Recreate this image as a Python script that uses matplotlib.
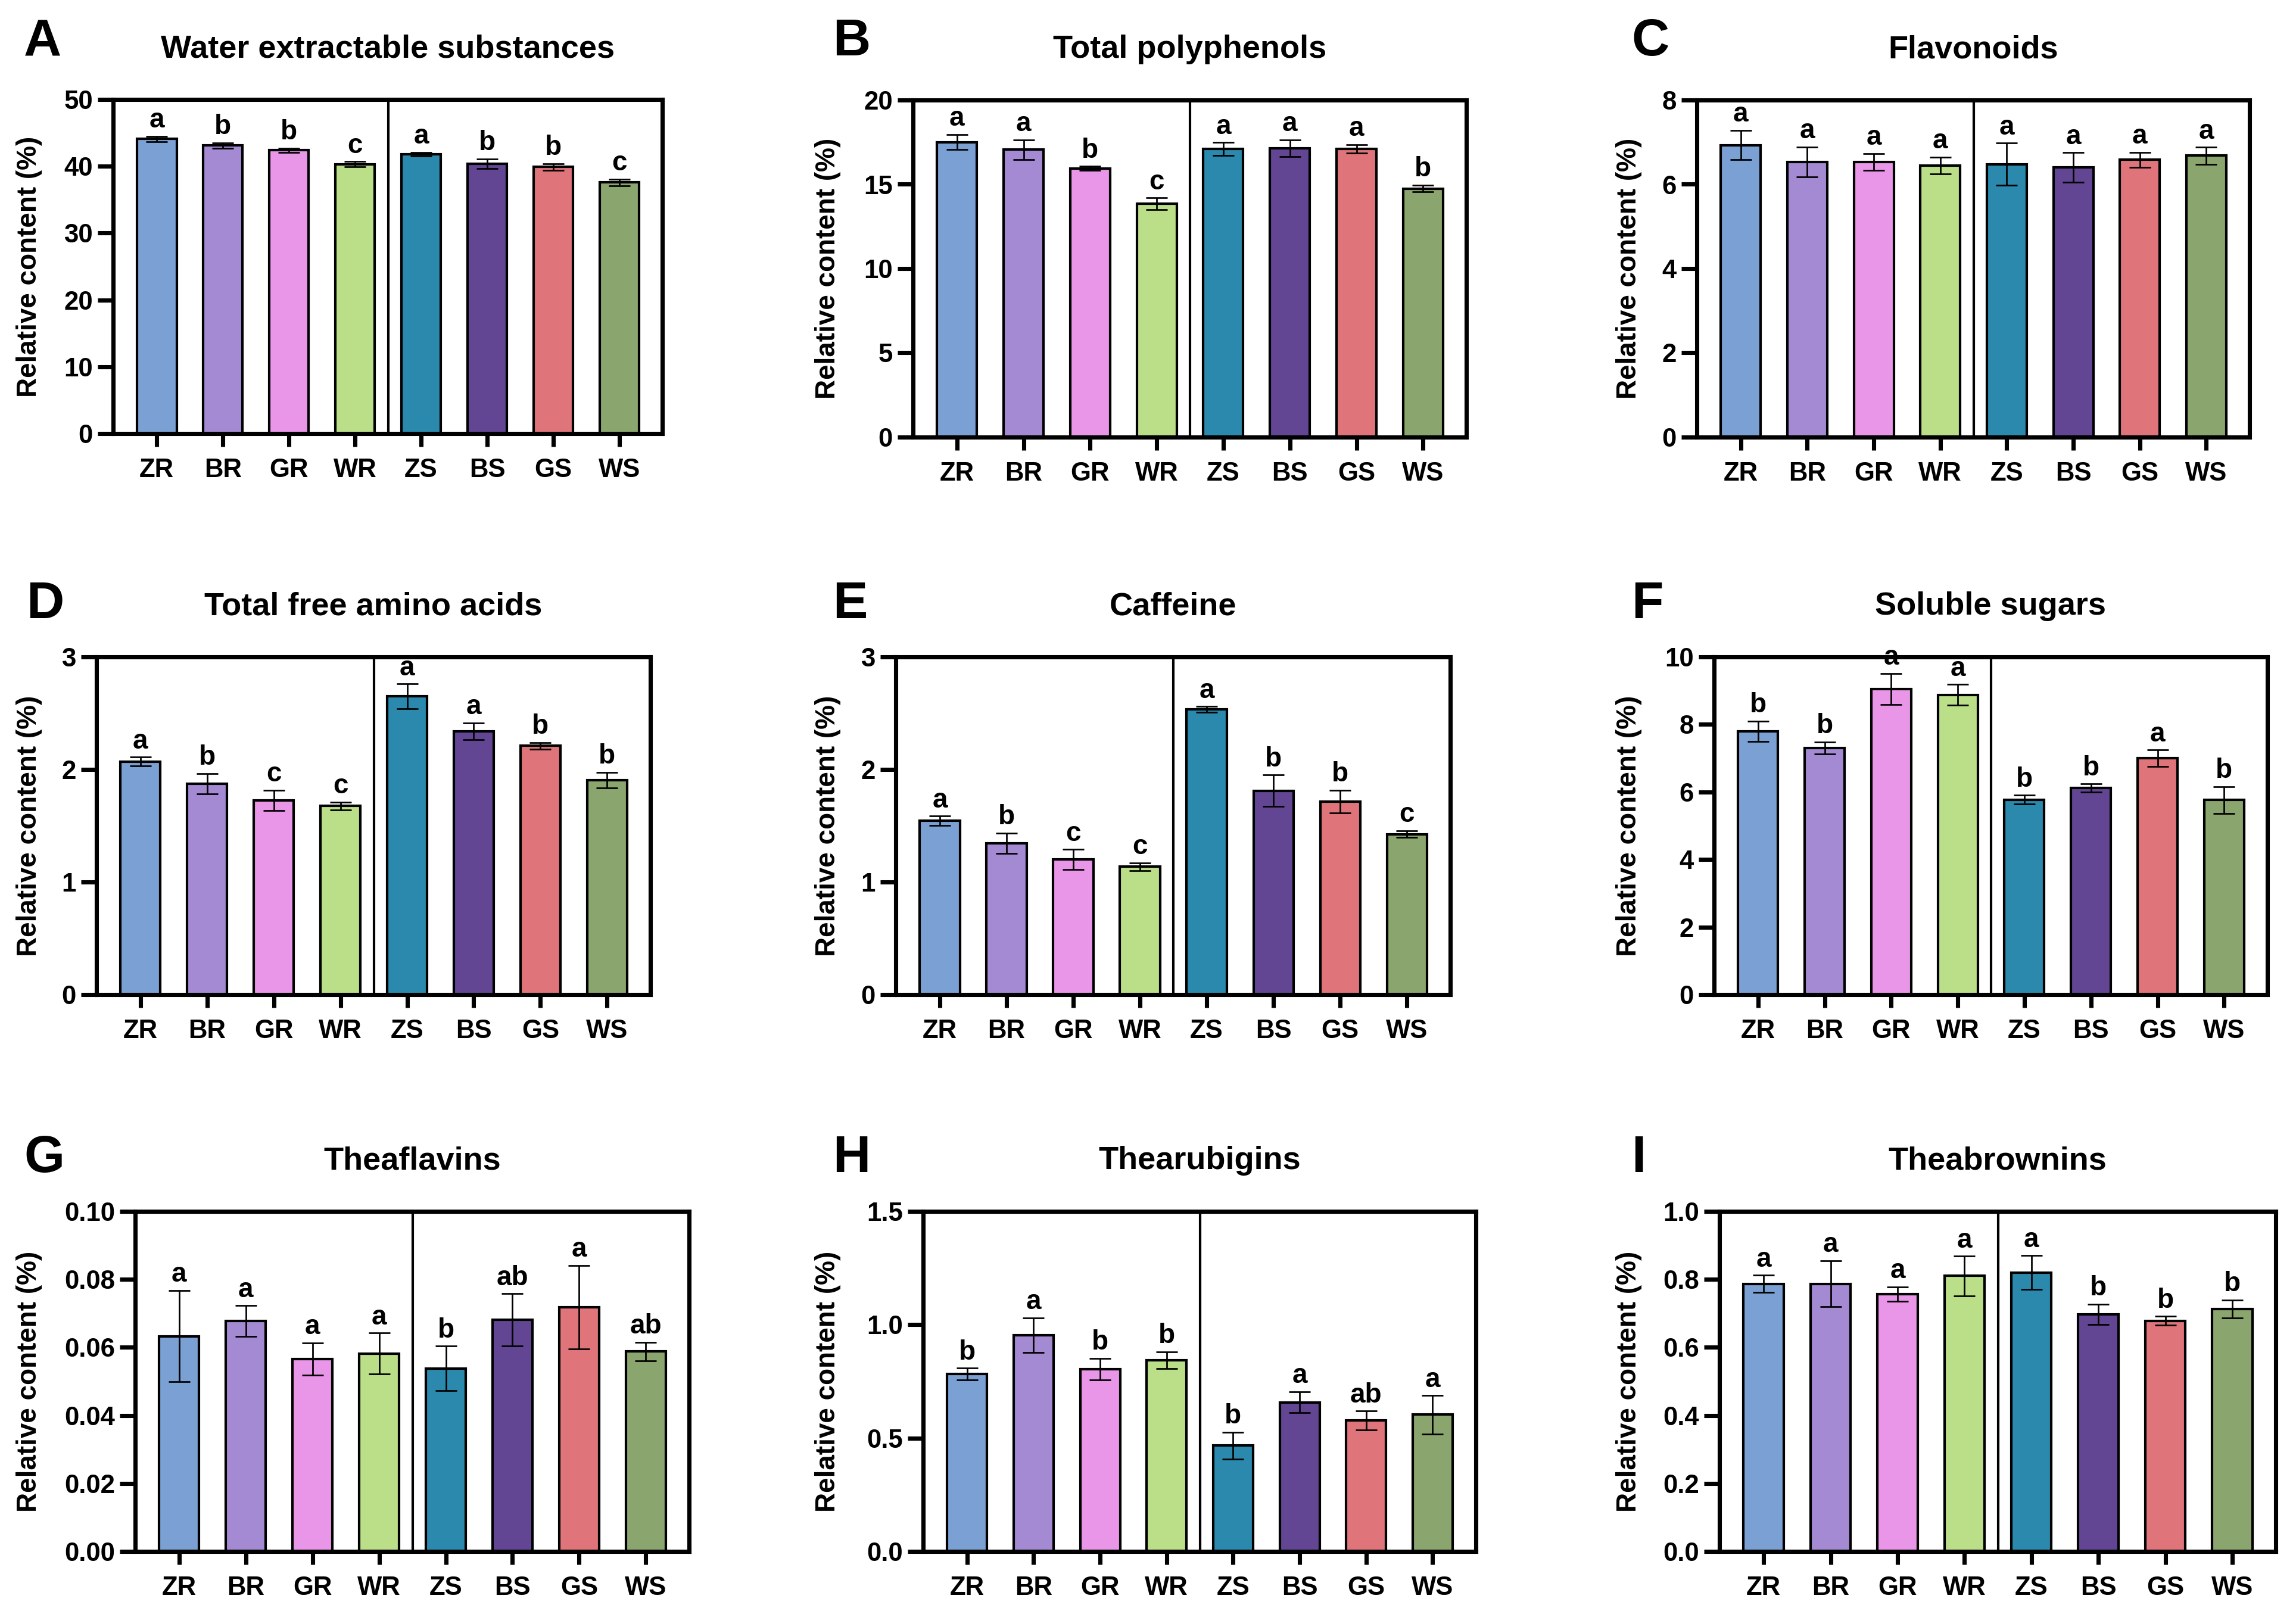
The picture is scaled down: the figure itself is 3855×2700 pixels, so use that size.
import matplotlib
matplotlib.use('Agg')
import matplotlib.pyplot as plt
from matplotlib.ticker import FormatStrFormatter, MultipleLocator

plt.rcParams['font.family'] = ['Liberation Sans', 'DejaVu Sans']
plt.rcParams['font.weight'] = 'bold'

# ---------------- data ----------------
groups = ['ZR', 'BR', 'GR', 'WR', 'ZS', 'BS', 'GS', 'WS']
colors = ['#7BA0D4', '#A48AD2', '#E996E8', '#BBDE89',
          '#2A89AD', '#624693', '#DF747A', '#8AA56E']

titles = ['Water extractable substances', 'Total polyphenols', 'Flavonoids',
          'Total free amino acids', 'Caffeine', 'Soluble sugars',
          'Theaflavins', 'Thearubigins', 'Theabrownins']
panel_letters = ['A', 'B', 'C', 'D', 'E', 'F', 'G', 'H', 'I']

wes_mean = [44.1, 43.1, 42.4, 40.3, 41.8, 40.4, 39.9, 37.6]
wes_err = [0.4, 0.4, 0.3, 0.4, 0.3, 0.7, 0.5, 0.5]
wes_sig = ['a', 'b', 'b', 'c', 'a', 'b', 'b', 'c']

tp_mean = [17.5, 17.05, 15.95, 13.85, 17.1, 17.15, 17.1, 14.75]
tp_err = [0.45, 0.6, 0.12, 0.35, 0.38, 0.5, 0.25, 0.2]
tp_sig = ['a', 'a', 'b', 'c', 'a', 'a', 'a', 'b']

fla_mean = [6.93, 6.53, 6.53, 6.45, 6.48, 6.40, 6.58, 6.68]
fla_err = [0.35, 0.36, 0.20, 0.20, 0.50, 0.35, 0.18, 0.20]
fla_sig = ['a', 'a', 'a', 'a', 'a', 'a', 'a', 'a']

aa_mean = [2.07, 1.875, 1.725, 1.675, 2.65, 2.34, 2.21, 1.905]
aa_err = [0.04, 0.09, 0.09, 0.035, 0.11, 0.075, 0.03, 0.07]
aa_sig = ['a', 'b', 'c', 'c', 'a', 'a', 'b', 'b']

caf_mean = [1.545, 1.345, 1.20, 1.135, 2.535, 1.81, 1.715, 1.425]
caf_err = [0.04, 0.09, 0.09, 0.035, 0.025, 0.14, 0.10, 0.03]
caf_sig = ['a', 'b', 'c', 'c', 'a', 'b', 'b', 'c']

sug_mean = [7.80, 7.30, 9.05, 8.88, 5.77, 6.12, 7.00, 5.76]
sug_err = [0.30, 0.18, 0.46, 0.30, 0.13, 0.12, 0.24, 0.40]
sug_sig = ['b', 'b', 'a', 'a', 'b', 'b', 'a', 'b']

tf_mean = [0.0633, 0.0678, 0.0566, 0.0582, 0.0538, 0.0681, 0.0718, 0.0588]
tf_err = [0.0134, 0.0045, 0.0047, 0.0060, 0.0066, 0.0077, 0.0123, 0.0027]
tf_sig = ['a', 'a', 'a', 'a', 'b', 'ab', 'a', 'ab']

tr_mean = [0.782, 0.954, 0.804, 0.843, 0.467, 0.658, 0.578, 0.603]
tr_err = [0.026, 0.077, 0.048, 0.037, 0.059, 0.046, 0.041, 0.085]
tr_sig = ['b', 'a', 'b', 'b', 'b', 'a', 'ab', 'a']

tb_mean = [0.787, 0.787, 0.757, 0.810, 0.820, 0.697, 0.678, 0.713]
tb_err = [0.025, 0.068, 0.021, 0.058, 0.050, 0.030, 0.013, 0.026]
tb_sig = ['a', 'a', 'a', 'a', 'a', 'b', 'b', 'b']

y_max = [50, 20, 8, 3, 3, 10, 0.10, 1.5, 1.0]
y_step = [10, 5, 2, 1, 1, 2, 0.02, 0.5, 0.2]
y_fmt = ['%d', '%d', '%d', '%d', '%d', '%d', '%.2f', '%.1f', '%.1f']

means = [wes_mean, tp_mean, fla_mean, aa_mean, caf_mean, sug_mean, tf_mean, tr_mean, tb_mean]
errs = [wes_err, tp_err, fla_err, aa_err, caf_err, sug_err, tf_err, tr_err, tb_err]
sigs = [wes_sig, tp_sig, fla_sig, aa_sig, caf_sig, sug_sig, tf_sig, tr_sig, tb_sig]

# ---------------- layout (pixels) ----------------
W, H = 3855, 2700
fig = plt.figure(figsize=(W / 300, H / 300), dpi=300)

# left, right, top, bottom of each axes in pixel coords (y from top)
boxes = [
    (190, 1112, 167, 728), (1533, 2462, 168, 734), (2849, 3777, 168, 734),
    (162, 1092, 1103, 1670), (1504, 2435, 1103, 1670), (2878, 3807, 1103, 1670),
    (227, 1157, 2034, 2605), (1550, 2478, 2034, 2605), (2887, 3821, 2034, 2605),
]
ylabel_x = [71, 1412, 2757]
letter_pos = [(40, 30), (1398, 30), (2739, 30),
              (44, 975), (1398, 975), (2739, 975),
              (40, 1905), (1398, 1905), (2739, 1905)]

x = list(range(len(groups)))

for i in range(9):
    l, r, t, b = boxes[i]
    ax = fig.add_axes([l / W, 1 - b / H, (r - l) / W, (b - t) / H])
    ax.bar(x, means[i], width=0.6, color=colors, edgecolor='black',
           linewidth=1.0, zorder=2)
    ax.errorbar(x, means[i], yerr=errs[i], fmt='none', ecolor='black',
                elinewidth=0.65, capsize=4.3, capthick=0.65, zorder=3)
    for xi, m, e, s in zip(x, means[i], errs[i], sigs[i]):
        ax.annotate(s, xy=(xi, m + e), xytext=(0, 3.5), textcoords='offset points',
                    ha='center', va='baseline', fontsize=11, fontweight='bold',
                    annotation_clip=False, zorder=4)
    ax.axvline(3.5, color='black', linewidth=1.0, zorder=1)
    ax.set_xlim(-0.66, 7.65)
    ax.set_ylim(0, y_max[i])
    ax.yaxis.set_major_locator(MultipleLocator(y_step[i]))
    ax.yaxis.set_major_formatter(FormatStrFormatter(y_fmt[i]))
    ax.set_xticks(x)
    ax.set_xticklabels(groups)
    for sp in ax.spines.values():
        sp.set_linewidth(1.7)
    ax.tick_params(axis='x', length=5.3, width=1.7, pad=4.5, labelsize=10.5)
    ax.tick_params(axis='y', length=6.2, width=1.7, pad=2, labelsize=10.5)
    for lab in ax.get_xticklabels() + ax.get_yticklabels():
        lab.set_fontweight('bold')
    ax.set_title(titles[i], fontsize=13, fontweight='bold', pad=17)
    ax.set_ylabel('Relative content (%)', fontsize=11, fontweight='bold')
    cy = 1 - (t + b) / 2 / H
    ax.yaxis.set_label_coords(ylabel_x[i % 3] / W, cy, transform=fig.transFigure)
    lx, ly = letter_pos[i]
    fig.text(lx / W, 1 - ly / H, panel_letters[i], fontsize=21, fontweight='bold',
             ha='left', va='top')

fig.savefig('out.png', dpi=300, facecolor='white')
